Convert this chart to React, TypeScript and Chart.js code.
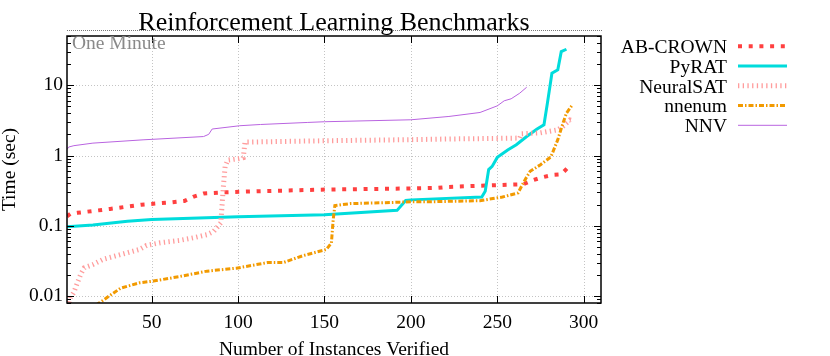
import React, { useEffect, useRef } from 'react';
import { Chart, registerables } from 'chart.js';

Chart.register(...registerables);

const FONT = "'Liberation Serif', 'Times New Roman', serif";
const TITLE = 'Reinforcement Learning Benchmarks';
const X_TITLE = 'Number of Instances Verified';
const Y_TITLE = 'Time (sec)';
const ONE_MINUTE_LABEL = 'One Minute';

const X_TICKS = [50, 100, 150, 200, 250, 300];
const Y_TICKS = [0.01, 0.1, 1, 10];
const Y_TICK_LABELS = ['0.01', '0.1', '1', '10'];
const X_MIN = 1;
const X_MAX = 310;
const Y_MIN = 0.008;
const Y_MAX = 50;
const ONE_MINUTE = 60;

const abcrownX = [1, 3, 7, 26, 44, 62, 69, 74, 80, 92, 111, 148, 200, 215, 221, 259, 265, 270, 276, 282, 287, 292];
const abcrownY = [0.137, 0.148, 0.153, 0.174, 0.2, 0.216, 0.226, 0.258, 0.288, 0.3, 0.31, 0.327, 0.34, 0.346, 0.357, 0.386, 0.39, 0.44, 0.49, 0.53, 0.54, 0.72];

const pyratX = [1, 16, 36, 50, 100, 150, 192, 197, 200, 241, 243, 245, 247, 250, 256, 261, 267, 273, 277, 279, 281.6, 285, 287, 290];
const pyratY = [0.097, 0.103, 0.116, 0.123, 0.135, 0.144, 0.166, 0.23, 0.234, 0.257, 0.31, 0.63, 0.7, 0.94, 1.2, 1.42, 1.86, 2.38, 2.73, 5.56, 14.8, 16.5, 30, 32.4];

const neuralsatX = [1, 3, 5, 7, 9, 11, 16, 22, 36, 43, 47, 55, 66, 74, 82, 86, 90, 91.5, 92.5, 94, 100, 103, 104, 150, 200, 223, 251, 263, 264, 275, 285, 288, 292, 294];
const neuralsatY = [0.006, 0.0095, 0.0114, 0.0155, 0.0206, 0.0254, 0.0282, 0.0335, 0.0415, 0.0463, 0.0526, 0.0575, 0.062, 0.0675, 0.075, 0.0838, 0.11, 0.365, 0.7, 0.86, 0.9, 0.93, 1.55, 1.62, 1.68, 1.72, 1.75, 1.77, 2.04, 2.1, 2.32, 2.6, 3.2, 3.1];

const nnenumX = [1, 15, 20, 26, 32, 43, 51, 66, 82, 99, 117, 126, 138, 151, 154, 155, 156, 165, 192, 200, 211, 240, 253, 262, 266, 269, 275, 281, 285, 288, 290, 293];
const nnenumY = [0.005, 0.0068, 0.0081, 0.0103, 0.013, 0.0155, 0.0164, 0.019, 0.0227, 0.025, 0.03, 0.03, 0.038, 0.046, 0.057, 0.12, 0.194, 0.207, 0.216, 0.22, 0.22, 0.228, 0.257, 0.294, 0.45, 0.596, 0.74, 0.955, 1.68, 2.89, 4.0, 5.08];

const nnvX = [1, 2, 5, 16, 45, 80, 83, 85, 101, 113, 140, 150, 200, 222, 240, 250, 254, 258, 263, 267];
const nnvY = [1.22, 1.32, 1.38, 1.5, 1.67, 1.86, 2.0, 2.38, 2.65, 2.76, 2.95, 3.02, 3.22, 3.59, 4.09, 5.08, 6.0, 6.4, 7.7, 9.35];

const SERIES_NAMES = ['AB-CROWN', 'PyRAT', 'NeuralSAT', 'nnenum', 'NNV'];
const SERIES_X = [abcrownX, pyratX, neuralsatX, nnenumX, nnvX];
const SERIES_Y = [abcrownY, pyratY, neuralsatY, nnenumY, nnvY];
const SERIES_COLORS = ['#ff4040', '#00dcdc', '#ff9c9c', '#f29a00', '#b964e0'];
const SERIES_WIDTHS = [4, 3, 5, 3, 1];
const SERIES_DASHES: number[][] = [[4, 6.7], [], [1.3, 3.4], [5, 2, 1.5, 2], []];

const gnuplotPlugin = {
  id: 'gnuplotStyle',
  beforeDatasetsDraw(chart: any) {
    const { ctx, chartArea: a, scales } = chart;
    const x = scales.x;
    const y = scales.y;
    ctx.save();
    ctx.strokeStyle = '#c4c4c4';
    ctx.lineWidth = 1;
    ctx.setLineDash([1, 2]);
    for (const v of X_TICKS) {
      const px = Math.round(x.getPixelForValue(v)) + 0.5;
      ctx.beginPath();
      ctx.moveTo(px, a.top);
      ctx.lineTo(px, a.bottom);
      ctx.stroke();
    }
    for (const v of Y_TICKS) {
      const py = Math.round(y.getPixelForValue(v)) + 0.5;
      ctx.beginPath();
      ctx.moveTo(a.left, py);
      ctx.lineTo(a.right, py);
      ctx.stroke();
    }
    ctx.restore();
  },
  afterDatasetsDraw(chart: any) {
    const { ctx, chartArea: a, scales } = chart;
    const x = scales.x;
    const y = scales.y;
    ctx.save();
    ctx.setLineDash([]);
    ctx.strokeStyle = '#000';
    ctx.lineWidth = 1.5;
    ctx.strokeRect(a.left, a.top, a.right - a.left, a.bottom - a.top);
    ctx.lineWidth = 1;
    const major = 7;
    const minor = 4;
    ctx.beginPath();
    for (const v of X_TICKS) {
      const px = Math.round(x.getPixelForValue(v)) + 0.5;
      ctx.moveTo(px, a.bottom);
      ctx.lineTo(px, a.bottom - major);
      ctx.moveTo(px, a.top);
      ctx.lineTo(px, a.top + major);
    }
    for (let e = -3; e <= 2; e++) {
      for (let m = 1; m <= 9; m++) {
        const v = m * Math.pow(10, e);
        if (v < Y_MIN * 0.999 || v > Y_MAX * 1.001) continue;
        const len = m === 1 ? major : minor;
        const py = Math.round(y.getPixelForValue(v)) + 0.5;
        ctx.moveTo(a.left, py);
        ctx.lineTo(a.left + len, py);
        ctx.moveTo(a.right, py);
        ctx.lineTo(a.right - len, py);
      }
    }
    ctx.stroke();
    ctx.fillStyle = '#8a8a8a';
    ctx.font = `19.5px ${FONT}`;
    ctx.textAlign = 'left';
    ctx.textBaseline = 'alphabetic';
    ctx.fillText(ONE_MINUTE_LABEL, a.left + 5, a.top + 12.5);
    ctx.restore();
  },
  afterDraw(chart: any) {
    const { ctx, chartArea: a, scales } = chart;
    const x = scales.x;
    const y = scales.y;
    ctx.save();
    // one-minute timeout line (drawn through the scales, just above the plot area)
    let pyMin = y.getPixelForValue(ONE_MINUTE);
    if (!isFinite(pyMin)) pyMin = a.top - 6;
    pyMin = Math.round(pyMin) + 0.5;
    const x0 = x.getPixelForValue(X_MIN);
    const x1 = x.getPixelForValue(X_MAX);
    ctx.fillStyle = '#7a7a7a';
    for (let px = Math.round(x0); px <= x1; px += 2) {
      ctx.fillRect(px, pyMin - 0.5, 1, 1);
    }

    ctx.fillStyle = '#000';
    ctx.textBaseline = 'alphabetic';
    ctx.textAlign = 'center';
    ctx.font = `26px ${FONT}`;
    ctx.fillText(TITLE, (a.left + a.right) / 2, 30);
    ctx.font = `19.5px ${FONT}`;
    ctx.fillText(X_TITLE, (a.left + a.right) / 2, 354.5);
    ctx.save();
    ctx.translate(15, (a.top + a.bottom) / 2);
    ctx.rotate(-Math.PI / 2);
    ctx.fillText(Y_TITLE, 0, 0);
    ctx.restore();
    // legend
    ctx.textAlign = 'right';
    for (let i = 0; i < SERIES_NAMES.length; i++) {
      const ry = 46.3 + i * 19.75;
      ctx.fillStyle = '#000';
      ctx.fillText(SERIES_NAMES[i], 727, ry + 6.8);
      ctx.strokeStyle = SERIES_COLORS[i];
      ctx.lineWidth = SERIES_WIDTHS[i];
      ctx.setLineDash(SERIES_DASHES[i]);
      ctx.lineCap = 'butt';
      ctx.beginPath();
      ctx.moveTo(738, ry);
      ctx.lineTo(787, ry);
      ctx.stroke();
    }
    ctx.restore();
  },
};

export default function App() {
  const canvasRef = useRef<HTMLCanvasElement | null>(null);

  useEffect(() => {
    document.body.style.margin = '0';
    const canvas = canvasRef.current;
    if (!canvas) return;

    const datasets: any[] = SERIES_NAMES.map((name, i) => ({
      label: name,
      data: SERIES_X[i].map((xv, j) => ({ x: xv, y: SERIES_Y[i][j] })),
      borderColor: SERIES_COLORS[i],
      backgroundColor: SERIES_COLORS[i],
      borderWidth: SERIES_WIDTHS[i],
      borderDash: SERIES_DASHES[i],
      borderCapStyle: 'butt',
      borderJoinStyle: 'miter',
      pointRadius: 0,
      tension: 0,
      fill: false,
      order: SERIES_NAMES.length - i + 1,
    }));

    const chart = new Chart(canvas, {
      type: 'line',
      data: { datasets },
      plugins: [gnuplotPlugin],
      options: {
        animation: false,
        responsive: false,
        devicePixelRatio: 1,
        layout: { padding: { left: 0, right: 229, top: 36, bottom: 0 } },
        plugins: { legend: { display: false }, tooltip: { enabled: false }, title: { display: false } },
        scales: {
          x: {
            type: 'linear',
            min: X_MIN,
            max: X_MAX,
            afterBuildTicks: (s: any) => {
              s.ticks = X_TICKS.map((v) => ({ value: v }));
            },
            afterFit: (s: any) => {
              s.height = 53;
            },
            grid: { display: false, drawTicks: false },
            border: { display: false },
            ticks: {
              autoSkip: false,
              maxRotation: 0,
              padding: 8,
              color: '#000',
              font: { family: FONT, size: 19.5 },
              callback: (v: any) => String(v),
            },
          },
          y: {
            type: 'logarithmic',
            min: Y_MIN,
            max: Y_MAX,
            afterBuildTicks: (s: any) => {
              s.ticks = Y_TICKS.map((v) => ({ value: v }));
            },
            afterFit: (s: any) => {
              s.width = 67;
            },
            grid: { display: false, drawTicks: false },
            border: { display: false },
            ticks: {
              autoSkip: false,
              padding: 4,
              color: '#000',
              font: { family: FONT, size: 19.5 },
              callback: (v: any) => {
                const idx = Y_TICKS.findIndex((t) => Math.abs(t - v) / t < 1e-6);
                return idx >= 0 ? Y_TICK_LABELS[idx] : '';
              },
            },
          },
        },
      },
    } as any);

    return () => {
      chart.destroy();
    };
  }, []);

  return <canvas ref={canvasRef} width={830} height={356} style={{ display: 'block' }} />;
}
